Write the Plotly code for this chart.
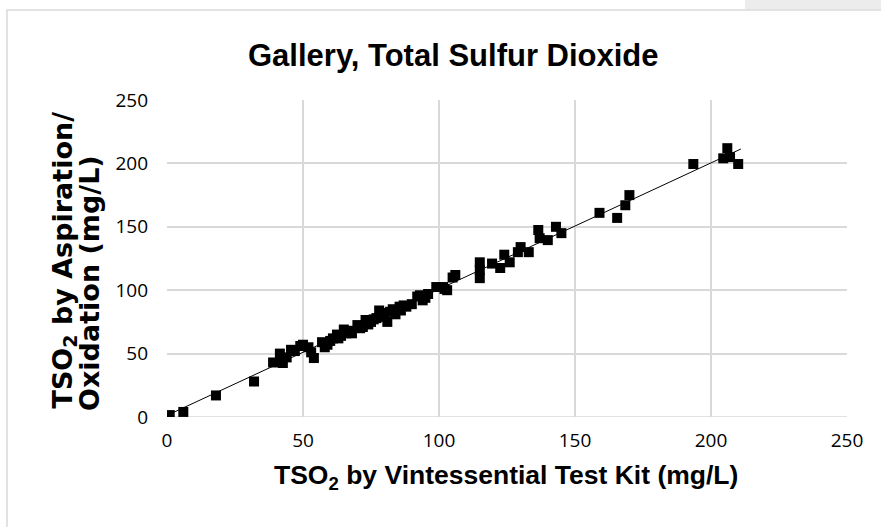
import numpy as np
import plotly.graph_objects as go

# TSO2 by Vintessential Test Kit (mg/L)
kit = [0, 1, 6, 18, 32, 39, 41.5, 42.6, 44, 45.6, 47, 49, 50, 52, 53, 54,
       57, 58, 59, 60, 61, 62.5, 63, 64, 65, 66, 67, 68, 70, 71, 72, 73, 74, 75,
       76, 77, 78, 78.5, 79, 80, 81, 82, 83, 84, 85.5, 86, 87, 88, 90, 92, 93,
       94, 95, 96, 99, 101.5, 102, 103, 105, 106,
       115, 115, 115, 119.5, 122.5, 124, 126, 129, 130, 133, 136.5, 137, 140,
       143, 145, 159, 165.5, 168.5, 170, 193.5, 204.5, 206, 207, 210]
# TSO2 by Aspiration/Oxidation (mg/L)
ao = [0, 1.5, 4, 17, 28, 43, 50, 42.6, 47, 53, 52, 56, 57, 55, 51, 46.5,
      59, 55, 57, 60, 62, 65, 62, 64, 69, 66, 68, 66, 72.5, 70, 71, 76.5, 73, 75,
      77, 78, 84, 80, 82, 79, 75, 83, 85, 81, 87, 84, 88, 87, 89, 95, 96,
      92, 94, 97, 102.5, 102.5, 101, 100, 110, 112,
      122, 116, 109.5, 121, 117.5, 128, 122, 130, 134, 130, 147.5, 141, 139.5,
      150, 145, 161, 157, 167, 175, 199.5, 204, 212, 205, 199.5]

slope, intercept = np.polyfit(kit, ao, 1)
fit_x = [min(kit), max(kit) + 1]
fit_y = [slope * v + intercept for v in fit_x]

x_ticks = [0, 50, 100, 150, 200, 250]
y_ticks = [0, 50, 100, 150, 200, 250]

title_text = "<b>Gallery, Total Sulfur Dioxide</b>"
x_title = "<b>TSO<sub>2</sub> by Vintessential Test Kit (mg/L)</b>"
y_title_1 = "<b>TSO<sub>2</sub> by Aspiration/</b>"
y_title_2 = "<b>Oxidation (mg/L)</b>"

# plot area in pixels: x 167..847, y 100..417
L, R, T, B = 167, 847, 100, 417
def px(xp):
    return (xp - L) / (R - L)
def py(yp):
    return (B - yp) / (B - T)

fig = go.Figure()
fig.add_trace(go.Scatter(x=fit_x, y=fit_y, mode="lines",
                         line=dict(color="black", width=1), showlegend=False,
                         hoverinfo="skip"))
fig.add_trace(go.Scatter(x=kit, y=ao, mode="markers",
                         marker=dict(symbol="square", size=10, color="black"),
                         showlegend=False))

grid = "#d9d9d9"
tickfont = dict(family="Open Sans", size=19, color="black")
fig.update_layout(
    width=881, height=527,
    paper_bgcolor="white", plot_bgcolor="white",
    margin=dict(l=L, r=881 - R, t=T, b=527 - B),
    xaxis=dict(range=[0, 250], tickvals=x_ticks, showgrid=True, gridcolor=grid,
               gridwidth=1.5, zeroline=False, showline=False, ticks="",
               tickfont=tickfont, ticklabelstandoff=10),
    yaxis=dict(range=[0, 250], tickvals=y_ticks, showgrid=True, gridcolor=grid,
               gridwidth=1.5, zeroline=False, showline=False, ticks="",
               tickfont=tickfont, ticklabelstandoff=18),
    annotations=[
        dict(text=title_text, xref="paper", yref="paper", x=px(453), y=py(56),
             xanchor="center", yanchor="middle", showarrow=False,
             font=dict(family="Liberation Sans, Arial", size=31, color="black")),
        dict(text=x_title, xref="paper", yref="paper", x=px(506), y=py(477),
             xanchor="center", yanchor="middle", showarrow=False,
             font=dict(family="Liberation Sans, Arial", size=26.5, color="black")),
        dict(text=y_title_1, xref="paper", yref="paper", x=px(64), y=py(411),
             xanchor="center", yanchor="bottom", textangle=-90, showarrow=False,
             font=dict(family="DejaVu Sans", size=27, color="black")),
        dict(text=y_title_2, xref="paper", yref="paper", x=px(89), y=py(413),
             xanchor="center", yanchor="bottom", textangle=-90, showarrow=False,
             font=dict(family="DejaVu Sans", size=27, color="black")),
    ],
    shapes=[
        dict(type="rect", xref="paper", yref="paper",
             x0=px(745), x1=px(890), y0=py(9), y1=py(-5),
             fillcolor="#ececec", line=dict(width=0), layer="below"),
        dict(type="rect", xref="paper", yref="paper",
             x0=px(7), x1=px(890), y0=py(540), y1=py(10),
             line=dict(color=grid, width=1.5), fillcolor="rgba(0,0,0,0)", layer="below"),
        dict(type="line", xref="paper", yref="y", x0=0, x1=1, y0=0, y1=0,
             line=dict(color=grid, width=1.5), layer="below"),
    ],
)

fig.write_html("out.html", config={"displayModeBar": False},
               post_script="document.body.style.margin='0';")
